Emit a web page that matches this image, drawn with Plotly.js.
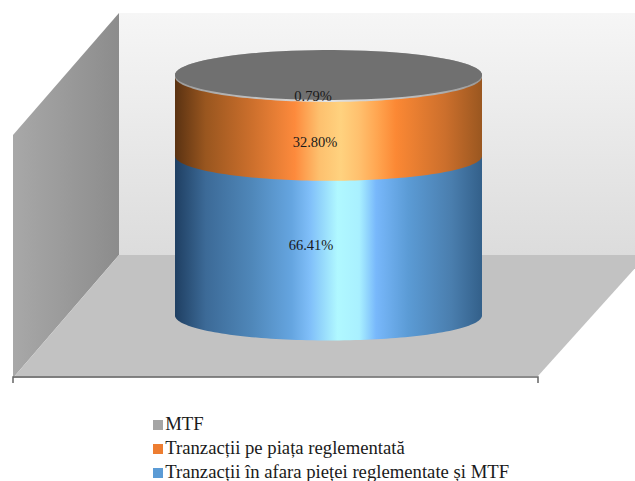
<!DOCTYPE html>
<html><head><meta charset="utf-8">
<script src="https://cdn.plot.ly/plotly-3.0.0.min.js"></script>
<style>html,body{margin:0;padding:0;background:#fff}#c{width:635px;height:481px}</style>
</head><body><div id="c"></div>
<script>
// Series, bottom of the stack first
const categories = ["Tranzacții în afara pieței reglementate și MTF", "Tranzacții pe piața reglementată", "MTF"];
const values = [66.41, 32.80, 0.79];
const valueLabels = ["66.41%", "32.80%", "0.79%"];
const legendColors = ["#5b9bd5", "#ed7d31", "#a5a5a5"];

// Gradients of the cylinder sides
const blueShade = [[0,"#1f3f62"],[0.1,"#3c6a97"],[0.25,"#4f87b9"],[0.38,"#65a5e0"],[0.44,"#80bff9"],[0.53,"#b0f8ff"],[0.6,"#a9f0ff"],[0.655,"#78b8fb"],[0.76,"#5b9bd5"],[0.9,"#4a7eae"],[1,"#33608a"]];
const orangeShade = [[0,"#5a3212"],[0.1,"#99561f"],[0.25,"#cc6f2c"],[0.39,"#fd8a3c"],[0.47,"#fdc06e"],[0.54,"#ffd27f"],[0.6,"#ffc06e"],[0.66,"#ffa550"],[0.72,"#fb8834"],[0.88,"#cc6f2c"],[1,"#9a5720"]];
const rimShade = [[0,"#9a9a9a"],[0.5,"#e4e4e4"],[1,"#9a9a9a"]];
const shades = [blueShade, orangeShade, rimShade];

// Geometry of the 3D box and cylinder (pixels)
const X0 = 328.5, RX = 153.5, RY = 25, BASE = 315.5, HEIGHT = 240.5;
const labelX = [311, 315, 313], labelDrop = [11, 27, 21];
const legendY = [473, 449, 425];

const yOf = v => BASE - HEIGHT * v / 100;
function arc(cy, from, to) {
  const xs = [], ys = [];
  for (let i = 0; i <= 90; i++) {
    const t = from + (to - from) * i / 90;
    xs.push(X0 + RX * Math.cos(t));
    ys.push(cy + RY * Math.sin(t));
  }
  return [xs, ys];
}
const poly = (x, y, extra) => Object.assign({type:"scatter", mode:"none", x, y, fill:"toself", hoverinfo:"skip"}, extra);

const traces = [
  poly([119,635,635,119,119],[13,13,255,255,13],{fillgradient:{type:"vertical",colorscale:[[0,"#dcdcdc"],[1,"#f6f6f6"]]}}),
  poly([13,119,119,13,13],[135,13,255,378,135],{fillgradient:{type:"horizontal",colorscale:[[0,"#a8a8a8"],[1,"#8c8c8c"]]}}),
  poly([13,119,647,538,13],[378,255,255,376,378],{fillcolor:"#c2c2c2"})
];

// Stacked cylinder sides, each built from its value
let cum = 0;
const mids = [];
values.forEach((v, i) => {
  const lo = yOf(cum), hi = yOf(cum + v);
  mids.push((lo + hi) / 2);
  const a = arc(lo, 0, Math.PI), b = arc(hi, Math.PI, 2 * Math.PI);
  traces.push(poly(a[0].concat(b[0]), a[1].concat(b[1]), {name:categories[i], fillgradient:{type:"horizontal",colorscale:shades[i]}}));
  cum += v;
});
// Top cap
const cap = arc(yOf(cum), 0, 2 * Math.PI);
traces.push(poly(cap[0], cap[1], {fillcolor:"#707070"}));

// Category axis line with its end ticks
traces.push({type:"scatter", mode:"lines", x:[13,13,538,538], y:[383,377,377,383], line:{color:"#666666",width:1.5}, hoverinfo:"skip"});

// Data labels
traces.push({type:"scatter", mode:"text", x:labelX, y:mids.map((m,i)=>m+labelDrop[i]), text:valueLabels,
  textposition:"middle center", textfont:{family:"Liberation Serif",size:14.5,color:"#1a1a1a"}, hoverinfo:"skip", cliponaxis:false});

// Legend
traces.push({type:"scatter", mode:"markers+text", x:categories.map(()=>158), y:legendY, text:categories,
  marker:{symbol:"square",size:10,color:legendColors}, textposition:"middle right",
  textfont:{family:"Liberation Serif",size:18.7,color:"#1a1a1a"}, hoverinfo:"skip", cliponaxis:false});

Plotly.newPlot("c", traces, {
  width:635, height:481, margin:{l:0,r:0,t:0,b:0}, showlegend:false,
  paper_bgcolor:"#ffffff", plot_bgcolor:"#ffffff",
  xaxis:{range:[0,635],visible:false,fixedrange:true},
  yaxis:{range:[481,0],visible:false,fixedrange:true},
  font:{family:"Liberation Serif"}
}, {displayModeBar:false, staticPlot:true});
</script></body></html>
